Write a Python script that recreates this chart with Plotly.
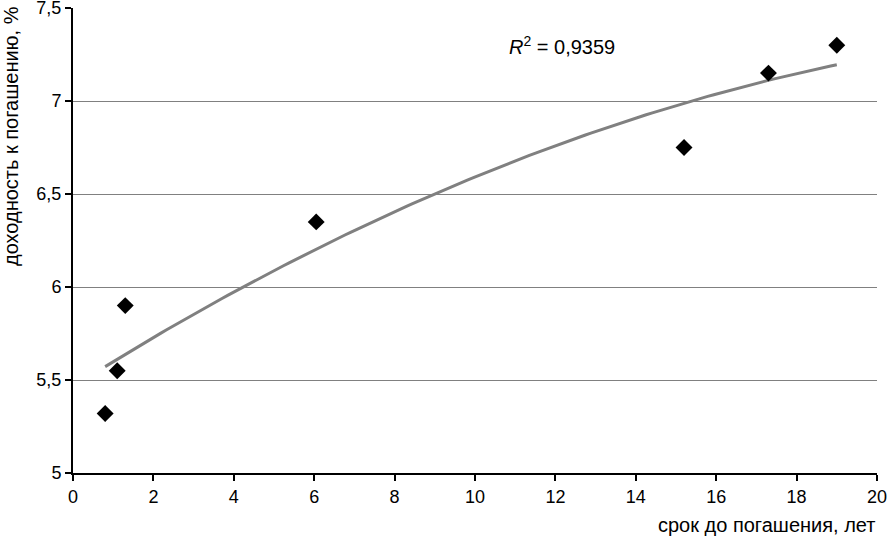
import numpy as np
import plotly.graph_objects as go

# Data
term_years = [0.8, 1.1, 1.3, 6.05, 15.2, 17.3, 19.0]
yield_pct = [5.32, 5.55, 5.9, 6.35, 6.75, 7.15, 7.3]
x_ticks = [0, 2, 4, 6, 8, 10, 12, 14, 16, 18, 20]
y_ticks = [5, 5.5, 6, 6.5, 7, 7.5]
r2_label = "0,9359"

# Polynomial (2nd order) trend line fitted to the points
coef = np.polyfit(term_years, yield_pct, 2)
xt = np.linspace(min(term_years), max(term_years), 120)
yt = np.polyval(coef, xt)

font = "Liberation Sans, Arial, sans-serif"

fig = go.Figure()
fig.add_trace(go.Scatter(x=xt, y=yt, mode="lines",
                         line=dict(color="#808080", width=3),
                         hoverinfo="skip", showlegend=False))
fig.add_trace(go.Scatter(x=term_years, y=yield_pct, mode="markers",
                         marker=dict(symbol="diamond", size=13, color="black"),
                         showlegend=False))

axis_common = dict(zeroline=False, showline=True, linecolor="black", linewidth=2,
                   ticks="outside", ticklen=6, tickwidth=1.5, tickcolor="black",
                   tickfont=dict(size=18), automargin=False,
                   ticklabeloverflow="allow")

fig.update_layout(
    width=887, height=540,
    margin=dict(l=73, r=10, t=8, b=67, autoexpand=False),
    paper_bgcolor="white", plot_bgcolor="white",
    separators=", ",
    font=dict(family=font, size=18, color="black"),
    xaxis=dict(range=[0, 20], tickvals=x_ticks, showgrid=False, **axis_common),
    yaxis=dict(range=[5, 7.5], tickvals=y_ticks, showgrid=True,
               gridcolor="#808080", gridwidth=1, **axis_common),
    annotations=[
        dict(text="доходность к погашению, %", textangle=-90,
             xref="paper", yref="paper", x=-0.077, y=0.441,
             xanchor="center", yanchor="bottom", showarrow=False,
             font=dict(size=20)),
        dict(text="срок до погашения, лет", xref="paper", yref="paper",
             x=1.0, y=-0.112, xanchor="right", yanchor="middle",
             showarrow=False, font=dict(size=20)),
        dict(text="<i>R</i><sup>2</sup> = " + r2_label, xref="x", yref="y",
             x=10.8, y=7.3, xanchor="left", yanchor="middle",
             showarrow=False, font=dict(size=20)),
    ],
)

fig.write_html("out.html", config={"displayModeBar": False},
               post_script="document.body.style.margin='0';document.body.style.overflow='hidden';")
